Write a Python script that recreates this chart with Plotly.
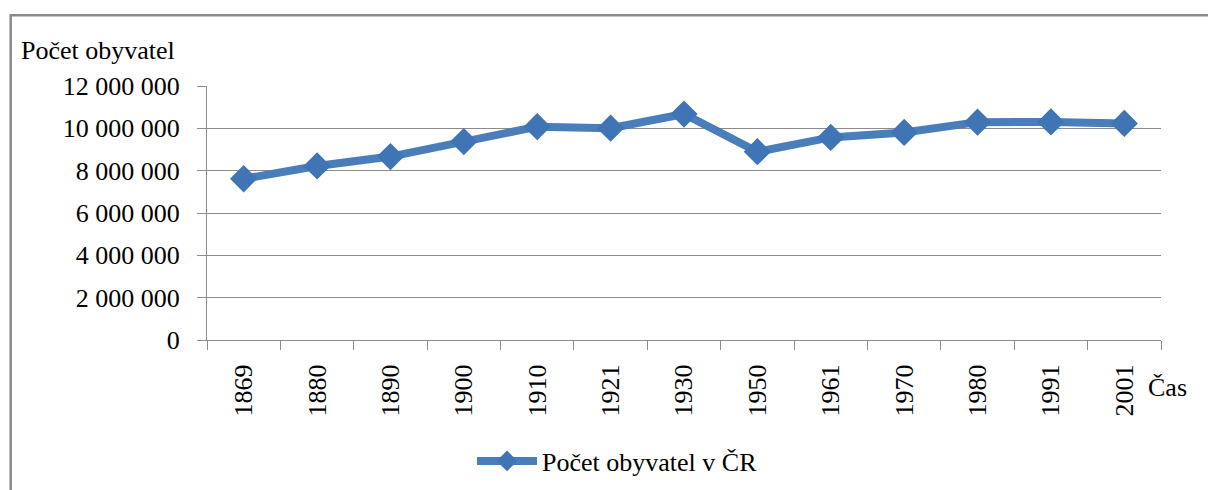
import plotly.graph_objects as go

years = ["1869", "1880", "1890", "1900", "1910", "1921", "1930", "1950", "1961", "1970", "1980", "1991", "2001"]
population = [7617230, 8222013, 8665421, 9372214, 10078637, 10009587, 10674386,
              8896133, 9571531, 9807697, 10291927, 10302215, 10230060]
y_ticks = [0, 2000000, 4000000, 6000000, 8000000, 10000000, 12000000]
y_tick_labels = ["0", "2 000 000", "4 000 000", "6 000 000", "8 000 000", "10 000 000", "12 000 000"]
series_name = "Počet obyvatel v ČR"
y_title = "Počet obyvatel"
x_title = "Čas"

W, H = 1208, 490
L, R, T, B = 207, 1161, 86, 340
FONT = "Liberation Serif"
FS = 26
GRID = "#8c8c8c"
BLUE = "#4A7EBB"

def px(x):
    return (x - L) / (R - L)

def py(y):
    return (B - y) / (B - T)

fig = go.Figure()
fig.add_trace(go.Scatter(
    x=years, y=population, name=series_name, mode="lines+markers",
    line=dict(color=BLUE, width=8),
    marker=dict(symbol="diamond", size=21, color="#3F74B5"),
))

fig.update_layout(
    width=W, height=H,
    margin=dict(l=L, r=W - R, t=T, b=H - B, pad=0, autoexpand=False),
    paper_bgcolor="white", plot_bgcolor="white",
    font=dict(family=FONT, size=FS, color="black"),
    showlegend=True,
    legend=dict(x=px(472), y=py(461), xanchor="left", yanchor="middle",
                orientation="h", itemwidth=60, font=dict(size=FS, family=FONT),
                bgcolor="rgba(0,0,0,0)"),
    xaxis=dict(type="category", range=[-0.5, len(years) - 0.5], tickangle=-90,
               ticks="outside", ticklen=9,
               tickcolor=GRID, tickson="boundaries", showline=True, linecolor=GRID,
               linewidth=1, showgrid=False, ticklabelstandoff=13, automargin=False,
               tickfont=dict(size=FS, family=FONT)),
    yaxis=dict(range=[0, 12000000], tickvals=y_ticks, ticktext=y_tick_labels,
               ticks="outside", ticklen=9, tickcolor=GRID, showline=True,
               linecolor=GRID, linewidth=1, showgrid=True, gridcolor=GRID,
               gridwidth=1, zeroline=False, ticklabelstandoff=12, automargin=False,
               tickfont=dict(size=FS, family=FONT)),
    annotations=[
        dict(text=y_title, xref="paper", yref="paper", x=px(19), y=py(50),
             xanchor="left", yanchor="middle", showarrow=False,
             font=dict(size=FS, family=FONT)),
        dict(text=x_title, xref="paper", yref="paper", x=px(1146), y=py(387),
             xanchor="left", yanchor="middle", showarrow=False,
             font=dict(size=FS, family=FONT)),
    ],
    shapes=[
        dict(type="rect", xref="paper", yref="paper",
             x0=px(10.7), x1=px(1260), y0=py(560), y1=py(15.3),
             line=dict(color="#8a8a8a", width=2.5), fillcolor="rgba(0,0,0,0)",
             layer="below"),
    ],
)

fig.write_html("out.html", config={"displayModeBar": False},
               post_script="document.body.style.margin='0';document.body.style.padding='0';")
